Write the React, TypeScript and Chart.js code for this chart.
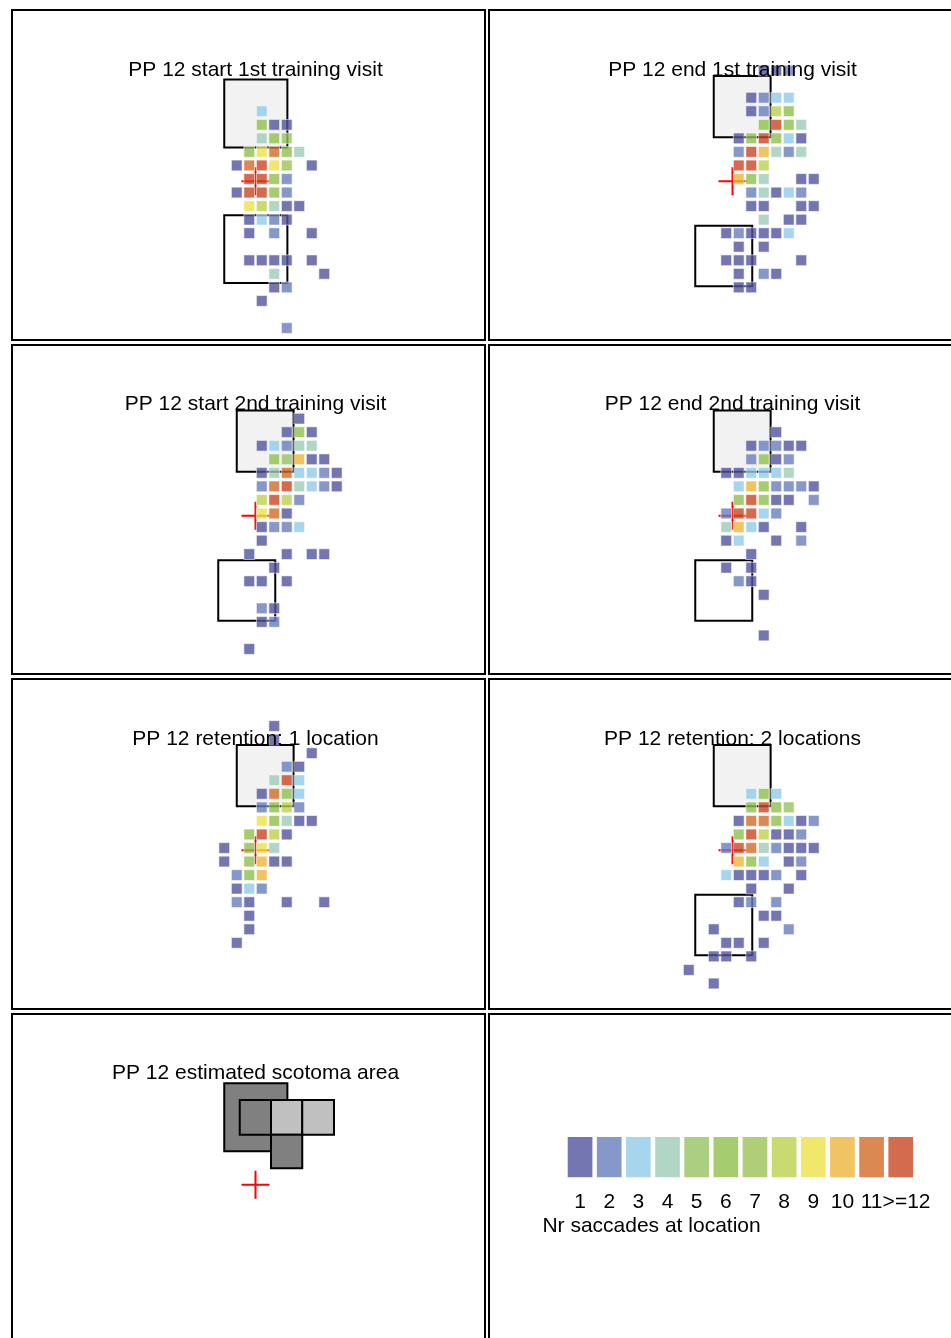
import React, { useEffect, useRef } from "react";
import { Chart, registerables } from "chart.js";

Chart.register(...registerables);

const FONT_FAMILY = '"Liberation Sans", Arial, Helvetica, sans-serif';
Chart.defaults.font.family = FONT_FAMILY;

// ------------------------------------------------------------------ data
const COUNT_LABELS = ["1", "2", "3", "4", "5", "6", "7", "8", "9", "10", "11", ">=12"];
const COUNT_SWATCH = [1, 1, 1, 1, 1, 1, 1, 1, 1, 1, 1, 1];
const LEGEND_TITLE = "Nr saccades at location";

const PANEL_TITLES = [
  "PP 12 start 1st training visit",
  "PP 12 end 1st training visit",
  "PP 12 start 2nd training visit",
  "PP 12 end 2nd training visit",
  "PP 12 retention: 1 location",
  "PP 12 retention: 2 locations",
  "PP 12 estimated scotoma area",
];

// fixation cross, in grid units (cells sit on integer column / row)
const FIXATION = { x: -0.5, y: -0.17 };

// cells: [column, row, number of saccades]
const CELLS_START_1 = [
  [0, 5, 3],
  [0, 4, 6], [1, 4, 1], [2, 4, 1],
  [0, 3, 4], [1, 3, 6], [2, 3, 5],
  [-1, 2, 6], [0, 2, 9], [1, 2, 11], [2, 2, 6], [3, 2, 4],
  [-2, 1, 1], [-1, 1, 11], [0, 1, 12], [1, 1, 9], [2, 1, 7], [4, 1, 1],
  [-1, 0, 12], [0, 0, 12], [1, 0, 6], [2, 0, 2],
  [-2, -1, 1], [-1, -1, 12], [0, -1, 12], [1, -1, 6], [2, -1, 2],
  [-1, -2, 9], [0, -2, 8], [1, -2, 4], [2, -2, 1], [3, -2, 1],
  [-1, -3, 1], [0, -3, 3], [1, -3, 2], [2, -3, 1],
  [-1, -4, 1], [1, -4, 2], [4, -4, 1],
  [-1, -6, 1], [0, -6, 1], [1, -6, 1], [2, -6, 1], [4, -6, 1],
  [1, -7, 4], [5, -7, 1],
  [1, -8, 1], [2, -8, 2],
  [0, -9, 1],
  [2, -11, 2],
];

const CELLS_END_1 = [
  [2, 8, 1], [3, 8, 1], [4, 8, 2],
  [1, 6, 1], [2, 6, 2], [3, 6, 3], [4, 6, 3],
  [1, 5, 1], [2, 5, 2], [3, 5, 8], [4, 5, 6],
  [2, 4, 6], [3, 4, 12], [4, 4, 6], [5, 4, 4],
  [0, 3, 1], [1, 3, 6], [2, 3, 12], [3, 3, 6], [4, 3, 3], [5, 3, 1],
  [0, 2, 2], [1, 2, 12], [2, 2, 10], [3, 2, 4], [4, 2, 2], [5, 2, 4],
  [0, 1, 12], [1, 1, 12], [2, 1, 8],
  [0, 0, 10], [1, 0, 6], [2, 0, 4], [5, 0, 1], [6, 0, 1],
  [1, -1, 2], [2, -1, 4], [3, -1, 1], [4, -1, 3], [5, -1, 2],
  [1, -2, 1], [2, -2, 1], [5, -2, 1], [6, -2, 1],
  [2, -3, 4], [4, -3, 1], [5, -3, 1],
  [-1, -4, 1], [0, -4, 2], [1, -4, 1], [2, -4, 1], [3, -4, 1], [4, -4, 3],
  [0, -5, 1], [2, -5, 1],
  [-1, -6, 1], [0, -6, 1], [1, -6, 1], [5, -6, 1],
  [0, -7, 1], [2, -7, 2], [3, -7, 1],
  [0, -8, 1], [1, -8, 1],
];

const CELLS_START_2 = [
  [3, 7, 1],
  [2, 6, 1], [3, 6, 6], [4, 6, 1],
  [0, 5, 1], [1, 5, 3], [2, 5, 2], [3, 5, 4], [4, 5, 4],
  [1, 4, 6], [2, 4, 5], [3, 4, 10], [4, 4, 1], [5, 4, 1],
  [0, 3, 1], [1, 3, 4], [2, 3, 11], [3, 3, 3], [4, 3, 3], [5, 3, 2], [6, 3, 1],
  [0, 2, 2], [1, 2, 11], [2, 2, 12], [3, 2, 4], [4, 2, 3], [5, 2, 2], [6, 2, 1],
  [0, 1, 8], [1, 1, 12], [2, 1, 8], [3, 1, 2],
  [0, 0, 9], [1, 0, 11], [2, 0, 1],
  [0, -1, 1], [1, -1, 2], [2, -1, 2], [3, -1, 3],
  [0, -2, 1],
  [-1, -3, 1], [2, -3, 1], [4, -3, 1], [5, -3, 1],
  [1, -4, 1],
  [-1, -5, 1], [0, -5, 1], [2, -5, 1],
  [0, -7, 2], [1, -7, 1],
  [0, -8, 1], [1, -8, 2],
  [-1, -10, 1],
];

const CELLS_END_2 = [
  [3, 6, 1],
  [1, 5, 1], [2, 5, 2], [3, 5, 2], [4, 5, 1], [5, 5, 1],
  [1, 4, 2], [2, 4, 6], [3, 4, 1], [4, 4, 2],
  [-1, 3, 1], [0, 3, 1], [1, 3, 3], [2, 3, 3], [3, 3, 3], [4, 3, 4],
  [0, 2, 3], [1, 2, 10], [2, 2, 6], [3, 2, 2], [4, 2, 2], [5, 2, 2], [6, 2, 1],
  [0, 1, 6], [1, 1, 12], [2, 1, 6], [3, 1, 1], [4, 1, 1], [6, 1, 2],
  [-1, 0, 2], [0, 0, 12], [1, 0, 12], [2, 0, 3], [3, 0, 2],
  [-1, -1, 4], [0, -1, 10], [1, -1, 3], [2, -1, 1], [5, -1, 1],
  [-1, -2, 1], [0, -2, 3], [3, -2, 1], [5, -2, 2],
  [1, -3, 1],
  [-1, -4, 1], [1, -4, 1],
  [0, -5, 2], [1, -5, 1],
  [2, -6, 1],
  [2, -9, 1],
];

const CELLS_RETENTION_1 = [
  [1, 9, 1],
  [1, 8, 1],
  [4, 7, 1],
  [2, 6, 2], [3, 6, 1],
  [1, 5, 4], [2, 5, 12], [3, 5, 3],
  [0, 4, 1], [1, 4, 11], [2, 4, 6], [3, 4, 3],
  [0, 3, 2], [1, 3, 6], [2, 3, 8], [3, 3, 2],
  [0, 2, 9], [1, 2, 6], [2, 2, 4], [3, 2, 1], [4, 2, 1],
  [-1, 1, 6], [0, 1, 12], [1, 1, 8], [2, 1, 1],
  [-3, 0, 1], [-1, 0, 6], [0, 0, 9], [1, 0, 4],
  [-3, -1, 1], [-1, -1, 6], [0, -1, 10], [1, -1, 1], [2, -1, 1],
  [-2, -2, 2], [-1, -2, 6], [0, -2, 10],
  [-2, -3, 1], [-1, -3, 3], [0, -3, 2],
  [-2, -4, 2], [-1, -4, 1], [2, -4, 1], [5, -4, 1],
  [-1, -5, 1],
  [-1, -6, 1],
  [-2, -7, 1],
];

const CELLS_RETENTION_2 = [
  [1, 4, 3], [2, 4, 6], [3, 4, 3],
  [1, 3, 6], [2, 3, 12], [3, 3, 6], [4, 3, 5],
  [0, 2, 1], [1, 2, 11], [2, 2, 11], [3, 2, 6], [4, 2, 3], [5, 2, 1], [6, 2, 2],
  [0, 1, 6], [1, 1, 12], [2, 1, 8], [3, 1, 1], [4, 1, 1], [5, 1, 2],
  [-1, 0, 2], [0, 0, 12], [1, 0, 11], [2, 0, 4], [3, 0, 2], [4, 0, 1], [5, 0, 1], [6, 0, 1],
  [0, -1, 10], [1, -1, 6], [2, -1, 3], [4, -1, 1], [5, -1, 2],
  [-1, -2, 3], [0, -2, 1], [1, -2, 1], [2, -2, 1], [3, -2, 2], [5, -2, 1],
  [1, -3, 1], [4, -3, 1],
  [0, -4, 1], [1, -4, 2], [3, -4, 2],
  [2, -5, 1], [3, -5, 1],
  [-2, -6, 1], [4, -6, 2],
  [-1, -7, 1], [0, -7, 1], [2, -7, 1],
  [-2, -8, 1], [-1, -8, 1], [1, -8, 1],
  [-4, -9, 1],
  [-2, -10, 1],
];

// squares: [x0, x1, y0, y1] in grid units
const TARGET_BOX_1 = [-3.0, 2.05, 2.33, 7.35];
const CONTROL_BOX_1 = [-3.0, 2.05, -7.67, -2.68];
const TARGET_BOX = [-2.0, 2.55, 3.08, 7.6];
const CONTROL_BOX = [-3.48, 1.08, -7.92, -3.45];
const SCOTOMA_BOXES = [
  [-3.0, 2.05, 2.3, 7.32],
  [-1.76, 0.74, 3.52, 6.08],
  [0.74, 3.24, 3.52, 6.08],
  [3.24, 5.78, 3.52, 6.08],
  [0.74, 3.24, 1.06, 3.52],
];
const SCOTOMA_LEVEL = ["dense", "dense", "relative", "relative", "dense"];

// ------------------------------------------------------------------ styles
const COUNT_COLORS = [
  "rgba(80,84,156,0.8)",
  "rgba(104,125,187,0.8)",
  "rgba(146,203,234,0.8)",
  "rgba(159,204,184,0.8)",
  "rgba(151,194,96,0.8)",
  "rgba(144,191,76,0.8)",
  "rgba(156,194,86,0.8)",
  "rgba(186,209,76,0.8)",
  "rgba(236,226,71,0.8)",
  "rgba(236,181,59,0.8)",
  "rgba(211,106,39,0.8)",
  "rgba(201,69,34,0.8)",
];
const CELL_EDGE = "rgba(255,255,255,0.55)";
const TARGET_FILL = "#f2f2f2";
const SCOTOMA_FILL = { dense: "#808080", relative: "#c0c0c0" };

// ------------------------------------------------------------------ layout
const COL_LEFT = [12, 489];
const ROW_TOP = [10, 344.5, 679, 1013.5];
const PANEL_W = 472.5;
const PANEL_H = 329.5;
const FIX_DX = 243.5; // fixation position inside a panel (px)
const FIX_DY = 171.3;
const UX = 12.5; // px per grid unit
const UY = 13.55;
const TITLE_BASE = 65.5;
const CANVAS_W = 470;
const CANVAS_H = 327;

type Box = number[];
type PanelSpec = {
  title: string;
  cells: number[][];
  boxes: { box: Box; fill: string | null }[];
};

const PANELS: PanelSpec[] = [
  { title: PANEL_TITLES[0], cells: CELLS_START_1, boxes: [{ box: TARGET_BOX_1, fill: TARGET_FILL }, { box: CONTROL_BOX_1, fill: null }] },
  { title: PANEL_TITLES[1], cells: CELLS_END_1, boxes: [{ box: TARGET_BOX, fill: TARGET_FILL }, { box: CONTROL_BOX, fill: null }] },
  { title: PANEL_TITLES[2], cells: CELLS_START_2, boxes: [{ box: TARGET_BOX, fill: TARGET_FILL }, { box: CONTROL_BOX, fill: null }] },
  { title: PANEL_TITLES[3], cells: CELLS_END_2, boxes: [{ box: TARGET_BOX, fill: TARGET_FILL }, { box: CONTROL_BOX, fill: null }] },
  { title: PANEL_TITLES[4], cells: CELLS_RETENTION_1, boxes: [{ box: TARGET_BOX, fill: TARGET_FILL }] },
  { title: PANEL_TITLES[5], cells: CELLS_RETENTION_2, boxes: [{ box: TARGET_BOX, fill: TARGET_FILL }, { box: CONTROL_BOX, fill: null }] },
  {
    title: PANEL_TITLES[6],
    cells: [],
    boxes: SCOTOMA_BOXES.map((b, i) => ({ box: b, fill: SCOTOMA_FILL[SCOTOMA_LEVEL[i] as "dense" | "relative"] })),
  },
];

function rectPath(b: Box) {
  const [x0, x1, y0, y1] = b;
  return [
    { x: x0, y: y0 },
    { x: x1, y: y0 },
    { x: x1, y: y1 },
    { x: x0, y: y1 },
    { x: x0, y: y0 },
    { x: x1, y: y0 },
  ];
}

function PanelChart({ spec, L, T }: { spec: PanelSpec; L: number; T: number }) {
  const ref = useRef<HTMLCanvasElement>(null);
  const cLeft = Math.round(L + 1);
  const cTop = Math.ceil(T + 1);
  useEffect(() => {
    const fx = L + FIX_DX - cLeft;
    const fy = T + FIX_DY - cTop;
    const xmin = FIXATION.x - fx / UX;
    const xmax = xmin + CANVAS_W / UX;
    const ymax = FIXATION.y + fy / UY;
    const ymin = ymax - CANVAS_H / UY;
    const titleY = T + TITLE_BASE - cTop;

    const datasets: any[] = [];
    datasets.push({
      label: "cells",
      data: spec.cells.map(([c, r]) => ({ x: c, y: r })),
      pointStyle: "rect",
      pointRadius: 7.6,
      pointHoverRadius: 7.6,
      pointBackgroundColor: spec.cells.map(([, , n]) => COUNT_COLORS[Math.min(n, 12) - 1]),
      pointBorderColor: CELL_EDGE,
      pointBorderWidth: 1,
      showLine: false,
      order: 0,
    });
    datasets.push({
      label: "fixation",
      data: [{ x: FIXATION.x, y: FIXATION.y }],
      pointStyle: "cross",
      pointRadius: 14,
      pointHoverRadius: 14,
      pointBorderColor: "#ff0000",
      pointBorderWidth: 2,
      showLine: false,
      order: 1,
    });
    spec.boxes.forEach((b, i) => {
      datasets.push({
        label: "box" + i,
        data: rectPath(b.box),
        showLine: true,
        pointRadius: 0,
        pointHoverRadius: 0,
        borderColor: "#000000",
        borderWidth: 2,
        borderJoinStyle: "miter",
        tension: 0,
        fill: b.fill ? "shape" : false,
        backgroundColor: b.fill || "rgba(0,0,0,0)",
        order: 100 - i,
      });
    });

    const titlePlugin = {
      id: "panelTitle",
      afterDatasetsDraw(chart: any) {
        const ctx = chart.ctx;
        const x = chart.scales.x.getPixelForValue(FIXATION.x);
        ctx.save();
        ctx.font = `21px ${FONT_FAMILY}`;
        ctx.fillStyle = "#000";
        ctx.textAlign = "center";
        ctx.textBaseline = "alphabetic";
        ctx.fillText(spec.title, x, titleY);
        ctx.restore();
      },
    };

    const chart = new Chart(ref.current!, {
      type: "scatter",
      data: { datasets },
      options: {
        animation: false,
        responsive: false,
        maintainAspectRatio: false,
        events: [],
        layout: { padding: 0, autoPadding: false },
        plugins: { legend: { display: false }, tooltip: { enabled: false } },
        scales: {
          x: { type: "linear", min: xmin, max: xmax, display: false },
          y: { type: "linear", min: ymin, max: ymax, display: false },
        },
      } as any,
      plugins: [titlePlugin],
    });
    return () => chart.destroy();
  }, []);
  return (
    <canvas
      ref={ref}
      width={CANVAS_W}
      height={CANVAS_H}
      style={{ position: "absolute", left: cLeft, top: cTop, width: CANVAS_W, height: CANVAS_H }}
    />
  );
}

function LegendChart() {
  const ref = useRef<HTMLCanvasElement>(null);
  useEffect(() => {
    const chart = new Chart(ref.current!, {
      type: "bar",
      data: {
        labels: COUNT_LABELS,
        datasets: [
          {
            data: COUNT_SWATCH,
            backgroundColor: COUNT_COLORS,
            borderColor: CELL_EDGE,
            borderWidth: 1,
            borderSkipped: false,
            barPercentage: 0.916,
            categoryPercentage: 1,
          },
        ],
      },
      options: {
        animation: false,
        responsive: false,
        maintainAspectRatio: false,
        events: [],
        layout: { padding: { left: 25.5, right: 35.7, top: 16, bottom: 0 }, autoPadding: false },
        plugins: { legend: { display: false }, tooltip: { enabled: false } },
        scales: {
          x: {
            grid: { display: false, drawTicks: false },
            border: { display: false },
            ticks: {
              color: "#000",
              font: { size: 21, family: FONT_FAMILY },
              padding: 11,
              maxRotation: 0,
              minRotation: 0,
              autoSkip: false,
              callback: (_v: any, i: number) => (i === COUNT_LABELS.length - 1 ? "\u00a0\u00a0" + COUNT_LABELS[i] : COUNT_LABELS[i]),
            },
            afterFit: (s: any) => {
              s.height = 51.7;
            },
          },
          y: { display: false, min: 0, max: 1 },
        },
      } as any,
    });
    return () => chart.destroy();
  }, []);
  return (
    <canvas
      ref={ref}
      width={411}
      height={110}
      style={{ position: "absolute", left: 540, top: 1120, width: 411, height: 110 }}
    />
  );
}

function Frame({ L, T }: { L: number; T: number }) {
  return (
    <div
      style={{
        position: "absolute",
        left: L - 1,
        top: T - 1,
        width: PANEL_W + 2,
        height: PANEL_H + 2,
        border: "2px solid #000",
        boxSizing: "border-box",
      }}
    />
  );
}

export default function App() {
  const slots = PANELS.map((p, i) => ({ p, L: COL_LEFT[i % 2], T: ROW_TOP[Math.floor(i / 2)] }));
  return (
    <div
      style={{
        position: "absolute",
        left: 0,
        top: 0,
        width: 951,
        height: 1338,
        overflow: "hidden",
        background: "#fff",
        fontFamily: FONT_FAMILY,
      }}
    >
      {slots.map((s, i) => (
        <Frame key={"f" + i} L={s.L} T={s.T} />
      ))}
      <Frame L={COL_LEFT[1]} T={ROW_TOP[3]} />
      {slots.map((s, i) => (
        <PanelChart key={"c" + i} spec={s.p} L={s.L} T={s.T} />
      ))}
      <LegendChart />
      <div
        style={{
          position: "absolute",
          left: 542.4,
          top: 1212.5,
          fontSize: 21,
          lineHeight: "24px",
          whiteSpace: "nowrap",
          color: "#000",
        }}
      >
        {LEGEND_TITLE}
      </div>
    </div>
  );
}
